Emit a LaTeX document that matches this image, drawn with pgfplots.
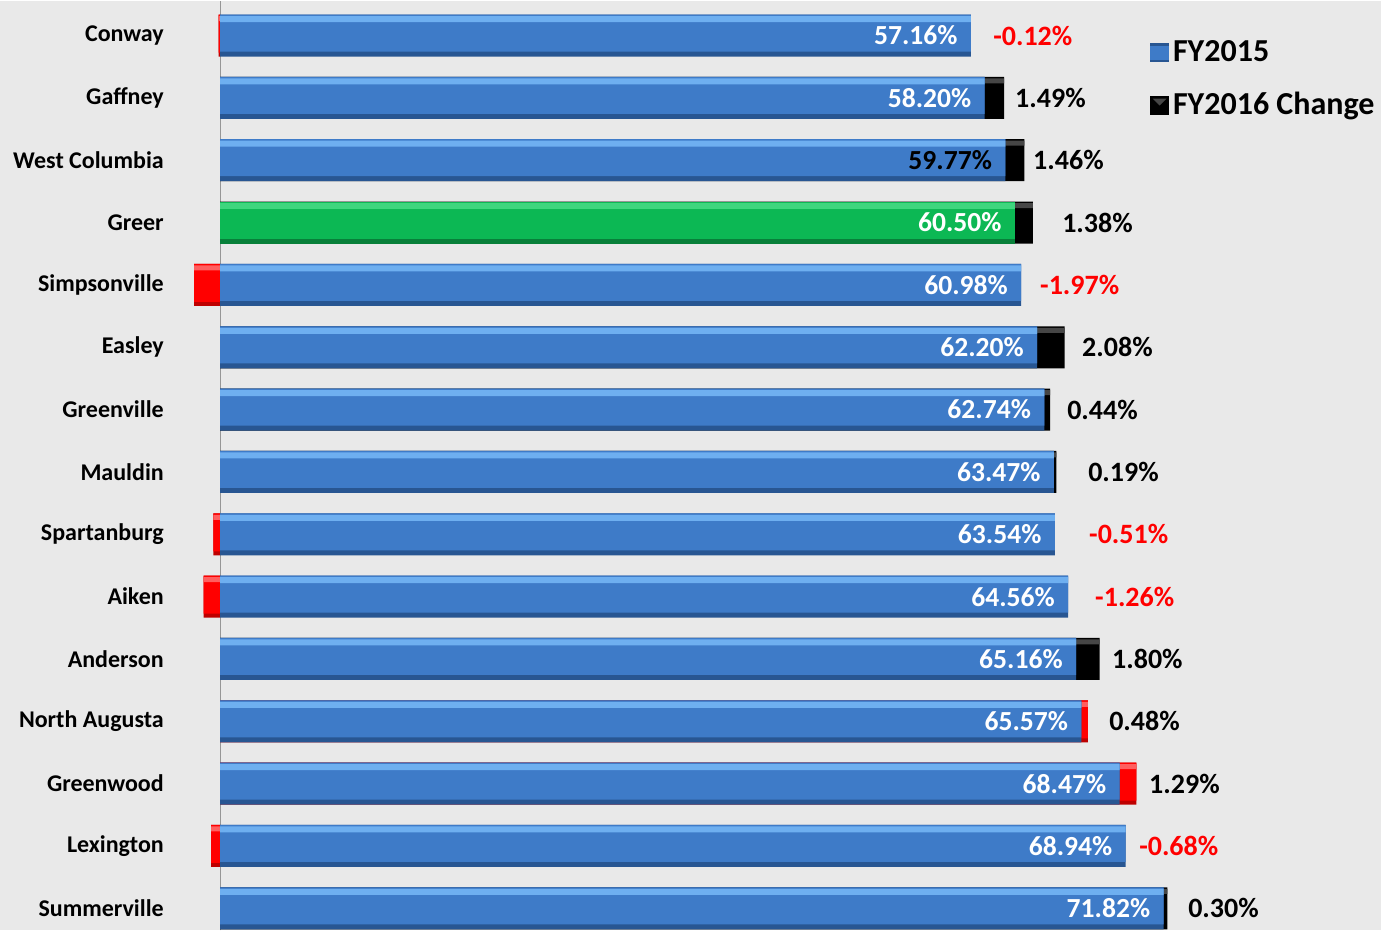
\documentclass[border=0pt]{standalone}
\usepackage{fontspec}
\setmainfont{Carlito}
\usepackage{pgfplots}
\usepackage{pgfplotstable}
\pgfplotsset{compat=1.18}

\definecolor{bgray}{RGB}{233,233,233}
\definecolor{axgray}{RGB}{150,150,150}
\definecolor{bmain}{RGB}{62,123,200}
\definecolor{blight}{RGB}{110,175,240}
\definecolor{bdark}{RGB}{40,86,146}
\definecolor{gmain}{RGB}{12,184,84}
\definecolor{glight}{RGB}{62,214,126}
\definecolor{gdark}{RGB}{8,128,58}
\definecolor{klight}{RGB}{70,70,70}
\definecolor{rmain}{RGB}{255,0,0}
\definecolor{rlight}{RGB}{255,95,95}
\definecolor{rdark}{RGB}{190,0,0}

% FY2015 (Greer drawn separately in green)
\pgfplotstableread{
val   row
57.16 14
58.20 13
59.77 12
60.98 10
62.20 9
62.74 8
63.47 7
63.54 6
64.56 5
65.16 4
65.57 3
68.47 2
68.94 1
71.82 0
}\fyblue

% FY2015 + positive change (black part)
\pgfplotstableread{
val   row
59.69 13
61.23 12
61.88 11
64.28 9
63.18 8
63.66 7
66.96 4
72.12 0
}\chblack

% red parts: positive ones stacked on FY2015, negative ones from zero
\pgfplotstableread{
val   row
66.05 3
69.76 2
-0.12 14
-1.97 10
-0.51 6
-1.26 5
-0.68 1
}\chred

% change labels
\pgfplotstableread{
x     row lab
60.50 13  1.49
61.87 12  1.46
64.08 11  1.38
65.60 9   2.08
64.46 8   0.44
66.06 7   0.19
67.88 4   1.80
67.66 3   0.48
70.70 2   1.29
73.67 0   0.30
}\labpos
\pgfplotstableread{
x     row lab
58.83 14  -0.12
62.40 10  -1.97
66.13 6   -0.51
66.59 5   -1.26
69.94 1   -0.68
}\labneg

\begin{document}
\begin{tikzpicture}
\begin{axis}[
    scale only axis,
    width=690.5pt, height=465pt,
    xmin=-16.74, xmax=88.36,
    ymin=-0.353, ymax=14.561,
    axis background/.style={fill=bgray},
    axis line style={draw=none},
    major tick length=0pt,
    xtick=\empty,
    extra x ticks={0}, extra x tick labels={},
    extra x tick style={grid=major, major grid style={axgray, line width=0.6pt}},
    ytick={0,...,14},
    yticklabels={Summerville,Lexington,Greenwood,North Augusta,Anderson,Aiken,Spartanburg,Mauldin,Greenville,Easley,Simpsonville,Greer,West Columbia,Gaffney,Conway},
    yticklabel style={anchor=east, inner sep=0pt, xshift=82pt, font=\bfseries\fontsize{12}{14}\selectfont},
    /pgf/number format/assume math mode=true,
    clip=false,
    xbar, bar width=21pt, bar shift=0pt,
    legend style={draw=none, fill=none, at={(axis description cs:0.8327,0.962)}, anchor=north west,
        font=\bfseries\fontsize{16}{19}\selectfont, row sep=10pt, inner sep=0pt, cells={anchor=west}},
    vlab/.style={point meta=x,
        nodes near coords={\pgfmathprintnumber[fixed,fixed zerofill,precision=2]{\pgfplotspointmeta}\%},
        every node near coord/.append style={anchor=east, xshift=-6.5pt, yshift=-8.5pt, inner sep=0pt,
            text=#1, font=\bfseries\fontsize{13.8}{16}\selectfont}},
    clab/.style={xbar=false, draw=none, mark=none, point meta=explicit symbolic,
        nodes near coords={\pgfplotspointmeta\%},
        every node near coord/.append style={anchor=west, inner sep=0pt, text=#1,
            font=\bfseries\fontsize{14}{16}\selectfont}},
]
% change bars
\addplot[draw=none, fill=black, forget plot] table[x=val, y=row] {\chblack};
\addplot[draw=none, fill=klight, bar width=2.5pt, bar shift=8.5pt, forget plot] table[x=val, y=row] {\chblack};
\addplot[draw=none, fill=rdark, forget plot] table[x=val, y=row] {\chred};
\addplot[draw=none, fill=rmain, bar width=19pt, bar shift=1pt, forget plot] table[x=val, y=row] {\chred};
\addplot[draw=none, fill=rlight, bar width=2.5pt, bar shift=8.5pt, forget plot] table[x=val, y=row] {\chred};

% FY2015 bars
\addplot[draw=none, fill=bdark, forget plot] table[x=val, y=row] {\fyblue};
\addplot[draw=none, fill=bmain, bar width=18.5pt, bar shift=1.25pt, forget plot] table[x=val, y=row] {\fyblue};
\addplot[draw=none, fill=blight, bar width=3pt, bar shift=8.25pt, forget plot] table[x=val, y=row] {\fyblue};

% Greer
\addplot[draw=none, fill=gdark, forget plot] coordinates {(60.50,11)};
\addplot[draw=none, fill=gmain, bar width=18.5pt, bar shift=1.25pt, forget plot] coordinates {(60.50,11)};
\addplot[draw=none, fill=glight, bar width=3pt, bar shift=8.25pt, forget plot] coordinates {(60.50,11)};

% FY2015 value labels
\addplot[draw=none, fill=none, bar width=2.5pt, bar shift=8.5pt, forget plot, vlab=white] coordinates {
    (57.16,14) (58.20,13) (60.50,11) (60.98,10) (62.20,9) (62.74,8) (63.47,7) (63.54,6)
    (64.56,5) (65.16,4) (65.57,3) (68.47,2) (68.94,1) (71.82,0)
};
\addplot[draw=none, fill=none, bar width=2.5pt, bar shift=8.5pt, forget plot, vlab=black] coordinates {(59.77,12)};

% change labels
\addplot[forget plot, clab=black] table[x=x, y=row, meta=lab] {\labpos};
\addplot[forget plot, clab=red] table[x=x, y=row, meta=lab] {\labneg};

\addlegendimage{legend image code/.code={
    \fill[bdark] (0pt,-4.5pt) rectangle (9pt,4.5pt);
    \fill[bmain] (0pt,-3.5pt) rectangle (9pt,3pt);}}
\addlegendentry{FY2015}
\addlegendimage{legend image code/.code={
    \fill[black] (0pt,-4.5pt) rectangle (9pt,4.5pt);
    \fill[klight] (1.5pt,3pt) -- (7.5pt,3pt) -- (4.5pt,0pt) -- cycle;}}
\addlegendentry{FY2016 Change}
\end{axis}
\end{tikzpicture}
\end{document}
